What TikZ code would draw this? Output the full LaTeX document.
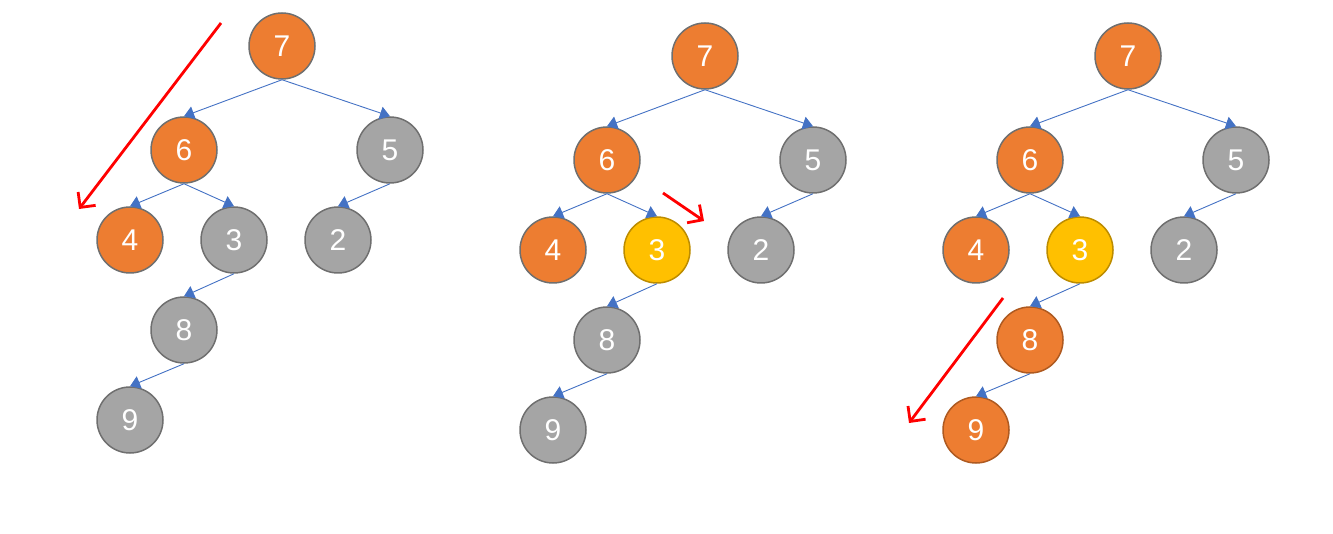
\documentclass[tikz,border=0pt]{standalone}
\usepackage{xcolor}
\usepackage{fontspec}
\setmainfont{Liberation Sans}
\usetikzlibrary{arrows.meta}

\definecolor{nodeorange}{HTML}{ED7D31}
\definecolor{nodegray}{HTML}{A5A5A5}
\definecolor{nodeyellow}{HTML}{FFC000}
\definecolor{rimgray}{HTML}{6F6F6F}
\definecolor{rimyellow}{HTML}{BC8C00}
\definecolor{rimorange}{HTML}{AE5A21}
\definecolor{edgeblue}{HTML}{4472C4}
\definecolor{markred}{HTML}{FF0000}

\tikzset{
    treenode/.style={circle, minimum size=66pt, inner sep=0pt, line width=1.5pt,
        text=white, font=\fontsize{30}{30}\selectfont},
    grayball/.style={treenode, draw=rimgray, fill=nodegray},
    orangeball/.style={treenode, draw=rimgray, fill=nodeorange},
    hotball/.style={treenode, draw=rimorange, fill=nodeorange},
    yellowball/.style={treenode, draw=rimyellow, fill=nodeyellow},
    treeedge/.style={draw=edgeblue, line width=0.9pt, -{Triangle[width=13pt,length=10pt]}},
    walk/.style={draw=markred, line width=2.8pt, -{Straight Barb[length=11pt,width=22pt]}}
}

\begin{document}
\begin{tikzpicture}[x=1pt, y=-1pt]
    \useasboundingbox (0,0) rectangle (1333,534);

    % first tree
    \node[orangeball] (a7) at (282,46) {7};
    \node[orangeball] (a6) at (184,150) {6};
    \node[grayball] (a5) at (390,150) {5};
    \node[orangeball] (a4) at (130,240) {4};
    \node[grayball] (a3) at (234,240) {3};
    \node[grayball] (a2) at (338,240) {2};
    \node[grayball] (a8) at (184,330) {8};
    \node[grayball] (a9) at (130,420) {9};
    \draw[treeedge] (a7.south) -- (a6.north);
    \draw[treeedge] (a7.south) -- (a5.north);
    \draw[treeedge] (a6.south) -- (a4.north);
    \draw[treeedge] (a6.south) -- (a3.north);
    \draw[treeedge] (a5.south) -- (a2.north);
    \draw[treeedge] (a3.south) -- (a8.north);
    \draw[treeedge] (a8.south) -- (a9.north);
    \coordinate (a_from) at (221,23);
    \coordinate (a_to) at (79,209);
    \draw[walk] (a_from) -- (a_to);

    % second tree
    \node[orangeball] (b7) at (705,56) {7};
    \node[orangeball] (b6) at (607,160) {6};
    \node[grayball] (b5) at (813,160) {5};
    \node[orangeball] (b4) at (553,250) {4};
    \node[yellowball] (b3) at (657,250) {3};
    \node[grayball] (b2) at (761,250) {2};
    \node[grayball] (b8) at (607,340) {8};
    \node[grayball] (b9) at (553,430) {9};
    \draw[treeedge] (b7.south) -- (b6.north);
    \draw[treeedge] (b7.south) -- (b5.north);
    \draw[treeedge] (b6.south) -- (b4.north);
    \draw[treeedge] (b6.south) -- (b3.north);
    \draw[treeedge] (b5.south) -- (b2.north);
    \draw[treeedge] (b3.south) -- (b8.north);
    \draw[treeedge] (b8.south) -- (b9.north);
    \coordinate (b_from) at (663,193);
    \coordinate (b_to) at (704,221);
    \draw[walk] (b_from) -- (b_to);

    % third tree
    \node[orangeball] (c7) at (1128,56) {7};
    \node[orangeball] (c6) at (1030,160) {6};
    \node[grayball] (c5) at (1236,160) {5};
    \node[orangeball] (c4) at (976,250) {4};
    \node[yellowball] (c3) at (1080,250) {3};
    \node[grayball] (c2) at (1184,250) {2};
    \node[hotball] (c8) at (1030,340) {8};
    \node[hotball] (c9) at (976,430) {9};
    \draw[treeedge] (c7.south) -- (c6.north);
    \draw[treeedge] (c7.south) -- (c5.north);
    \draw[treeedge] (c6.south) -- (c4.north);
    \draw[treeedge] (c6.south) -- (c3.north);
    \draw[treeedge] (c5.south) -- (c2.north);
    \draw[treeedge] (c3.south) -- (c8.north);
    \draw[treeedge] (c8.south) -- (c9.north);
    \coordinate (c_from) at (1003,298);
    \coordinate (c_to) at (909,423);
    \draw[walk] (c_from) -- (c_to);
\end{tikzpicture}
\end{document}
